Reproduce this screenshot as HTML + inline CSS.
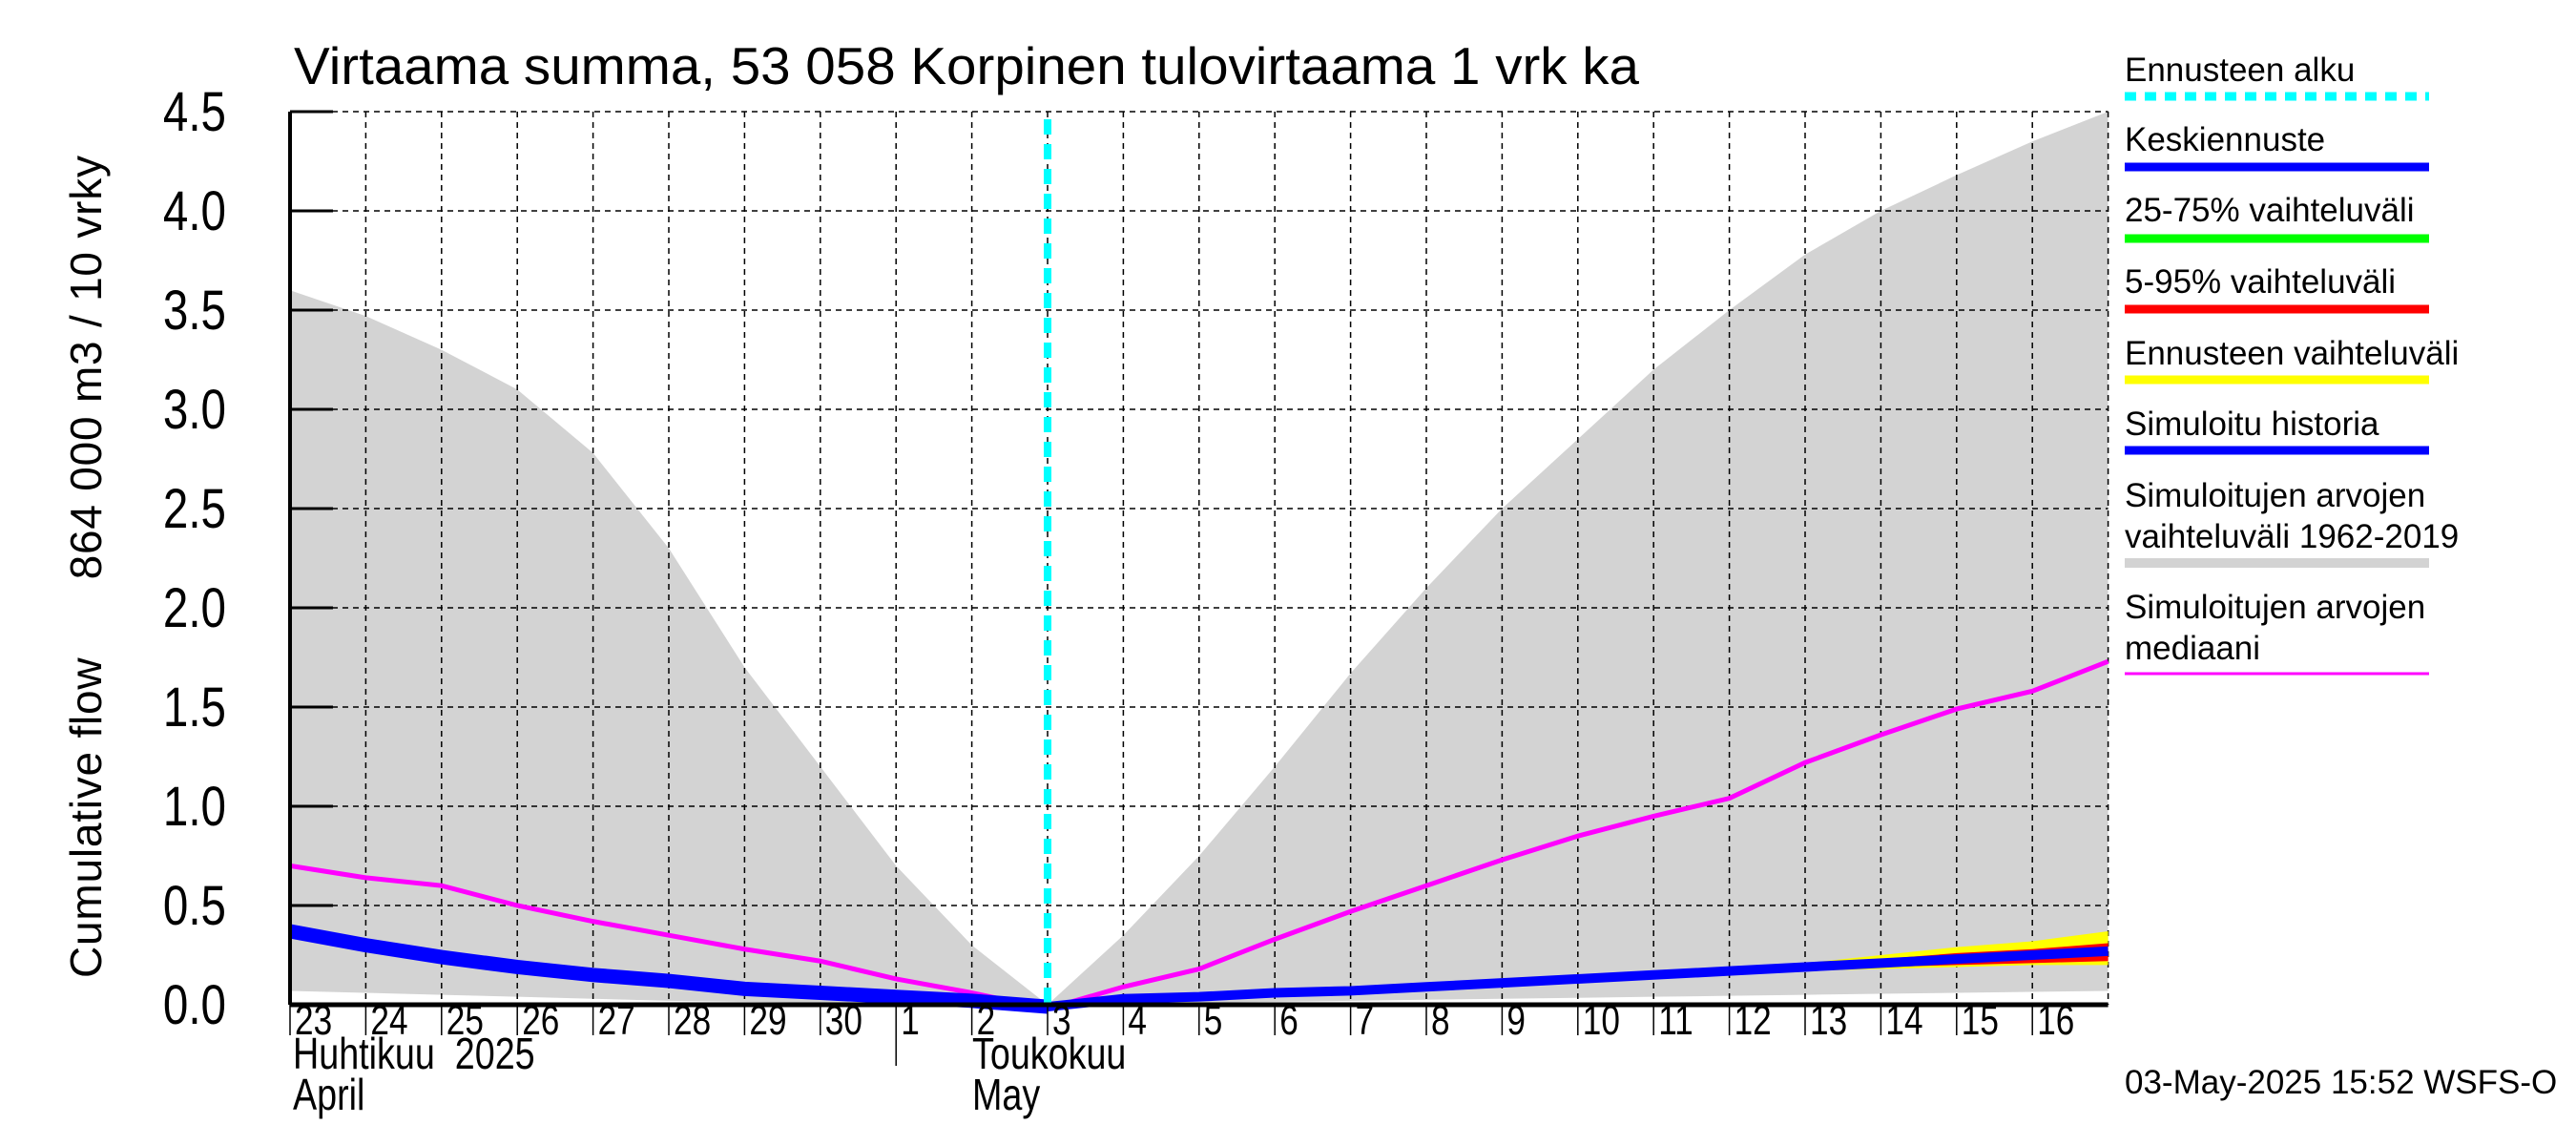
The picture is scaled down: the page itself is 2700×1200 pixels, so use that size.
<!DOCTYPE html>
<html><head><meta charset="utf-8"><style>
body{margin:0;background:#fff}
svg{display:block;font-family:"Liberation Sans",sans-serif}
text{white-space:pre}
</style></head><body>
<svg id="c" width="2700" height="1200" viewBox="0 0 2700 1200" xmlns="http://www.w3.org/2000/svg">
<g id="plot"></g>
<text x="308" y="88" font-size="55" textLength="1410" lengthAdjust="spacingAndGlyphs">Virtaama summa, 53 058 Korpinen tulovirtaama 1 vrk ka</text>
<text transform="translate(106,594) rotate(-90)" text-anchor="middle" font-size="46" textLength="862">Cumulative flow      864 000 m3 / 10 vrky</text>
<g id="legend" font-size="35"></g>
<text x="2227" y="1146" font-size="35">03-May-2025 15:52 WSFS-O</text>
</svg>
<script>
const dayLabels=["23","24","25","26","27","28","29","30","1","2","3","4","5","6","7","8","9","10","11","12","13","14","15","16"];
const yTicks=[0,0.5,1,1.5,2,2.5,3,3.5,4,4.5];
const yTickLabels=["0.0","0.5","1.0","1.5","2.0","2.5","3.0","3.5","4.0","4.5"];
const bandUpper=[3.6,3.47,3.3,3.1,2.78,2.3,1.7,1.2,0.7,0.3,0.0,0.35,0.75,1.2,1.67,2.1,2.5,2.85,3.2,3.5,3.78,4.0,4.18,4.35,4.5];
const bandLower=[0.07,0.06,0.05,0.04,0.03,0.02,0.015,0.01,0,0,0,0.005,0.01,0.015,0.02,0.025,0.03,0.035,0.04,0.045,0.05,0.055,0.06,0.065,0.07];
const median=[0.7,0.64,0.6,0.5,0.42,0.35,0.28,0.22,0.13,0.06,-0.02,0.09,0.18,0.33,0.47,0.6,0.73,0.85,0.95,1.04,1.22,1.36,1.49,1.58,1.73];
const history=[0.37,0.3,0.24,0.19,0.15,0.12,0.08,0.06,0.04,0.02,-0.01];
const forecastMean=[-0.01,0.03,0.04,0.06,0.07,0.09,0.11,0.13,0.15,0.17,0.19,0.21,0.23,0.25,0.27];
const fcMin=[-0.01,0.03,0.04,0.06,0.07,0.09,0.11,0.13,0.15,0.16,0.17,0.18,0.19,0.2,0.2];
const fcMax=[-0.01,0.03,0.04,0.06,0.07,0.09,0.11,0.13,0.15,0.19,0.21,0.25,0.29,0.32,0.37];
const fc5=[-0.01,0.03,0.04,0.06,0.07,0.09,0.11,0.13,0.15,0.165,0.18,0.19,0.2,0.21,0.22];
const fc95=[-0.01,0.03,0.04,0.06,0.07,0.09,0.11,0.13,0.15,0.185,0.2,0.23,0.26,0.28,0.31];
const forecastStart=10;

const X0=304,DX=79.4,Y0=1053,DY=208;
const xs=d=>X0+d*DX, ys=v=>Y0-v*DY;
const NS="http://www.w3.org/2000/svg";
const plot=document.getElementById('plot');
function mk(tag,attrs,parent){const e=document.createElementNS(NS,tag);for(const k in attrs)e.setAttribute(k,attrs[k]);(parent||plot).appendChild(e);return e;}
function pts(arr,off){return arr.map((v,i)=>xs(i+off)+","+ys(v)).join(" ");}
function band(lo,hi,off){return hi.map((v,i)=>xs(i+off)+","+ys(v)).concat(lo.map((v,i)=>xs(i+off)+","+ys(v)).reverse()).join(" ");}

let e=mk('polygon',{points:band(bandLower,bandUpper,0),fill:'#d3d3d3'});


for(let i=1;i<=24;i++){e=mk('line',{x1:xs(i),x2:xs(i),y1:ys(4.5),y2:Y0,stroke:'#000','stroke-width':1.5,'stroke-dasharray':'6 5'});

}
yTicks.forEach((t,i)=>{
 if(t>0){e=mk('line',{x1:X0,x2:xs(24),y1:ys(t),y2:ys(t),stroke:'#000','stroke-width':1.5,'stroke-dasharray':'6 5'});
 
 
 e=mk('line',{x1:X0,x2:X0+45,y1:ys(t),y2:ys(t),stroke:'#000','stroke-width':3});
 
 }
 e=mk('text',{transform:`translate(237,${ys(t)+20}) scale(0.82,1)`,'text-anchor':'end','font-size':58});
 e.textContent=yTickLabels[i];
 
 
});
e=mk('polygon',{points:band(fcMin,fcMax,forecastStart),fill:'#ffff00'});


e=mk('polygon',{points:band(fc5,fc95,forecastStart),fill:'#ff0000'});


e=mk('polyline',{points:pts(median,0),fill:'none',stroke:'#ff00ff','stroke-width':5});


e=mk('polyline',{points:pts(history,0),fill:'none',stroke:'#0000ff','stroke-width':15});


e=mk('polyline',{points:pts(forecastMean,forecastStart),fill:'none',stroke:'#0000ff','stroke-width':10});


e=mk('line',{x1:xs(forecastStart),x2:xs(forecastStart),y1:ys(4.5)+8,y2:Y0,stroke:'#00ffff','stroke-width':8,'stroke-dasharray':'16 10'});


e=mk('line',{x1:X0,x2:X0,y1:ys(4.5),y2:Y0,stroke:'#000','stroke-width':4});


e=mk('line',{x1:X0,x2:xs(24),y1:Y0,y2:Y0,stroke:'#000','stroke-width':5});


dayLabels.forEach((l,i)=>{
 e=mk('line',{x1:xs(i),x2:xs(i),y1:Y0,y2:Y0+(i==8?64:32),stroke:'#000','stroke-width':1.5});
 
 
 e=mk('text',{transform:`translate(${xs(i)+5},1084) scale(0.8,1)`,'font-size':44});
 e.textContent=l;
 
 
});
[["Huhtikuu  2025",307,1120],["April",307,1163],["Toukokuu",1019,1120],["May",1019,1163]].forEach(m=>{
 e=mk('text',{transform:`translate(${m[1]},${m[2]}) scale(0.82,1)`,'font-size':46});
 e.textContent=m[0];
 
 
});
const lg=document.getElementById('legend');
const legendItems=[["Ennusteen alku",null,85,101,'#00ffff',9,true],["Keskiennuste",null,158,175,'#0000ff',9],["25-75% vaihteluväli",null,232,250,'#00ff00',9],["5-95% vaihteluväli",null,307,324,'#ff0000',9],["Ennusteen vaihteluväli",null,382,398,'#ffff00',9],["Simuloitu historia",null,456,472,'#0000ff',9],["Simuloitujen arvojen","vaihteluväli 1962-2019",531,590,'#d3d3d3',10],["Simuloitujen arvojen","mediaani",648,706,'#ff00ff',3]];
legendItems.forEach(it=>{
 let t=mk('text',{x:2227,y:it[2]},lg);t.textContent=it[0];
 
 
 if(it[1]){t=mk('text',{x:2227,y:it[2]+43},lg);t.textContent=it[1];
 
 }
 const a={x1:2227,x2:2546,y1:it[3],y2:it[3],stroke:it[4],'stroke-width':it[5]};
 if(it[6])a['stroke-dasharray']='12 9';
 t=mk('line',a,lg);
 
 
});
</script>
</body></html>
